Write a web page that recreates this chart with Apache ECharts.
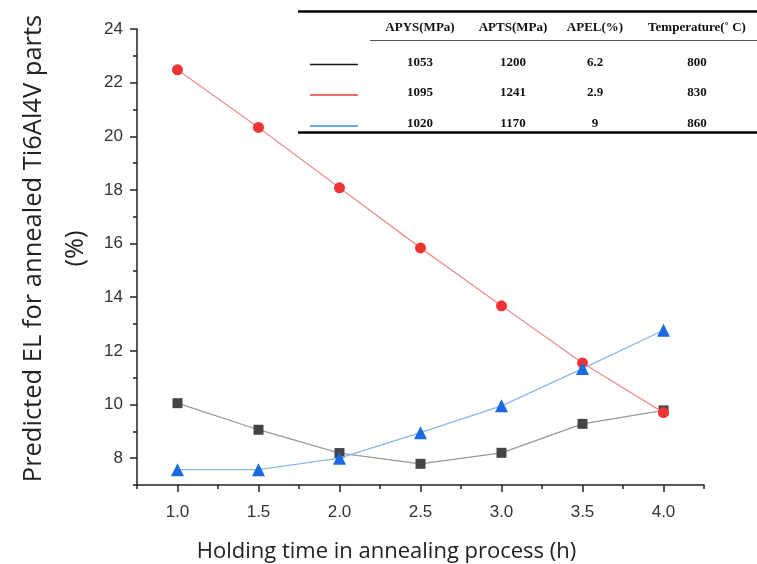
<!DOCTYPE html>
<html>
<head>
<meta charset="utf-8">
<script src="https://cdn.jsdelivr.net/npm/echarts@6/dist/echarts.min.js"></script>
<style>
html,body{margin:0;padding:0;background:#fff;}
#chart{width:757px;height:564px;}
</style>
</head>
<body>
<div id="chart"></div>
<script>
// ---- data ----
const holdingTime = [1.0, 1.5, 2.0, 2.5, 3.0, 3.5, 4.0];
const el800 = [10.05, 9.06, 8.19, 7.79, 8.20, 9.28, 9.78];
const el830 = [22.48, 20.33, 18.08, 15.84, 13.68, 11.55, 9.70];
const el860 = [7.57, 7.57, 8.00, 8.95, 9.95, 11.34, 12.77];
const xMajorTicks = [1.0, 1.5, 2.0, 2.5, 3.0, 3.5, 4.0];
const xMinorTicks = [0.75, 1.25, 1.75, 2.25, 2.75, 3.25, 3.75, 4.25];
const yMajorTicks = [8, 10, 12, 14, 16, 18, 20, 22, 24];
const yMinorTicks = [7, 9, 11, 13, 15, 17, 19, 21, 23];
const tableHeader = ['APYS(MPa)', 'APTS(MPa)', 'APEL(%)', 'Temperature(\u02DA C)'];
const apys = ['1053', '1095', '1020'];
const apts = ['1200', '1241', '1170'];
const apel = ['6.2', '2.9', '9'];
const temperature = ['800', '830', '860'];
const legendColors = ['#1a1a1a', '#ee3b3b', '#3d8fe0'];

// ---- table graphics ----
const colX = [420, 513, 595, 697];
const rowY = [62.5, 93, 124];
const tableFont = 'bold 13px "Liberation Serif", "DejaVu Serif", serif';
const graphics = [];
graphics.push({type:'line', shape:{x1:298,y1:11.5,x2:757,y2:11.5}, style:{stroke:'#000',lineWidth:2.5}});
graphics.push({type:'line', shape:{x1:370,y1:40.5,x2:757,y2:40.5}, style:{stroke:'#555',lineWidth:1}});
graphics.push({type:'line', shape:{x1:298,y1:132.5,x2:757,y2:132.5}, style:{stroke:'#000',lineWidth:2.5}});
tableHeader.forEach((h, i) => {
  graphics.push({type:'text', x:colX[i], y:28, style:{text:h, font:tableFont, fill:'#111', align:'center', verticalAlign:'middle'}});
});
const cols = [apys, apts, apel, temperature];
rowY.forEach((y, r) => {
  graphics.push({type:'line', shape:{x1:310,y1:y+2,x2:358,y2:y+2}, style:{stroke:legendColors[r],lineWidth:1.5}});
  cols.forEach((c, i) => {
    graphics.push({type:'text', x:colX[i], y:y, style:{text:c[r], font:tableFont, fill:'#111', align:'center', verticalAlign:'middle'}});
  });
});

const chart = echarts.init(document.getElementById('chart'));
const axisLineStyle = {color:'#222', width:1.5};
const labelStyle = {color:'#333', fontSize:17, fontFamily:'"Liberation Sans", Arial, sans-serif'};
chart.setOption({
  animation:false,
  backgroundColor:'#fff',
  grid:{left:137, right:53, top:29, bottom:79, containLabel:false, outerBoundsMode:'none'},
  xAxis:[{
    type:'value', min:0.75, max:4.25, interval:0.25, position:'bottom',
    axisLine:{show:true, onZero:false, lineStyle:axisLineStyle},
    axisTick:{show:true, inside:false, length:7, customValues:xMajorTicks, lineStyle:axisLineStyle},
    axisLabel:{customValues:xMajorTicks, margin:19, formatter:v=>v.toFixed(1), ...labelStyle},
    splitLine:{show:false},
    name:'Holding time in annealing process (h)', nameLocation:'middle', nameGap:56, nameMoveOverlap:false,
    nameTextStyle:{fontSize:22, color:'#222', fontFamily:'"Open Sans", sans-serif', padding:[0,68,0,0]}
  },{
    type:'value', min:0.75, max:4.25, interval:0.25, position:'bottom',
    axisLine:{show:false},
    axisTick:{show:true, length:4, customValues:xMinorTicks, lineStyle:axisLineStyle},
    axisLabel:{show:false}, splitLine:{show:false}
  }],
  yAxis:[{
    type:'value', min:7, max:24, interval:1, position:'left',
    axisLine:{show:true, onZero:false, lineStyle:axisLineStyle},
    axisTick:{show:true, length:7, customValues:yMajorTicks, lineStyle:axisLineStyle},
    axisLabel:{customValues:yMajorTicks, margin:14, ...labelStyle},
    splitLine:{show:false},
    name:'Predicted EL for annealed Ti6Al4V parts\n(%)', nameLocation:'middle', nameGap:40, nameMoveOverlap:false,
    nameTextStyle:{fontSize:25.5, lineHeight:42, color:'#222', fontFamily:'"Open Sans", sans-serif', padding:[0,0,0,17]}
  },{
    type:'value', min:7, max:24, interval:1, position:'left',
    axisLine:{show:false},
    axisTick:{show:true, length:4, customValues:yMinorTicks, lineStyle:axisLineStyle},
    axisLabel:{show:false}, splitLine:{show:false}
  }],
  series:[
    {type:'line', name:'800', data:holdingTime.map((x,i)=>[x, el800[i]]), symbol:'rect', symbolSize:10,
     itemStyle:{color:'#444'}, lineStyle:{color:'#999', width:1.3}, z:3},
    {type:'line', name:'830', data:holdingTime.map((x,i)=>[x, el830[i]]), symbol:'circle', symbolSize:11,
     itemStyle:{color:'#ee3333'}, lineStyle:{color:'#ee9090', width:1.3}, z:4},
    {type:'line', name:'860', data:holdingTime.map((x,i)=>[x, el860[i]]), symbol:'triangle', symbolSize:13,
     itemStyle:{color:'#1a6ae0'}, lineStyle:{color:'#8ab8ec', width:1.3}, z:5}
  ],
  graphic:graphics
});
</script>
</body>
</html>
